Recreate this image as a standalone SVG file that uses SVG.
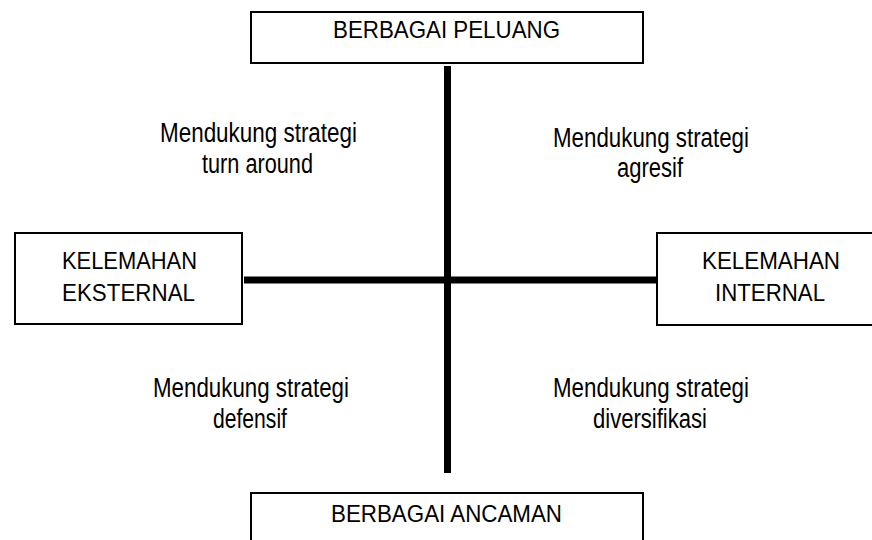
<svg xmlns="http://www.w3.org/2000/svg" width="872" height="540" viewBox="0 0 872 540">
  <style>
    .box { fill: #ffffff; stroke: #000000; stroke-width: 2; }
    .axis { stroke: #000000; stroke-width: 7; fill: none; }
    .label { font-family: "Liberation Sans", Arial, sans-serif; fill: #000000; text-anchor: middle; }
    .head { font-size: 24px; }
    .note { font-size: 27px; }
  </style>
  <rect width="872" height="540" fill="#ffffff"/>

  <!-- axes -->
  <g id="connectors">
    <line class="axis" x1="447.5" y1="66" x2="447.5" y2="473"/>
    <line class="axis" x1="244" y1="280" x2="658" y2="280"/>
  </g>

  <g id="node-peluang">
    <rect class="box" x="251" y="12" width="392" height="51"/>
    <text class="label head" x="446.5" y="38" textLength="227" lengthAdjust="spacingAndGlyphs">BERBAGAI PELUANG</text>
  </g>

  <g id="node-ancaman">
    <rect class="box" x="251" y="493" width="392" height="70"/>
    <text class="label head" x="446.5" y="522" textLength="231" lengthAdjust="spacingAndGlyphs">BERBAGAI ANCAMAN</text>
  </g>

  <g id="node-eksternal">
    <rect class="box" x="15" y="233" width="227" height="91"/>
    <text class="label head" x="129.5" y="269" textLength="135" lengthAdjust="spacingAndGlyphs">KELEMAHAN</text>
    <text class="label head" x="128.5" y="301" textLength="133" lengthAdjust="spacingAndGlyphs">EKSTERNAL</text>
  </g>

  <g id="node-internal">
    <rect class="box" x="657" y="233" width="230" height="92"/>
    <text class="label head" x="771" y="269" textLength="138" lengthAdjust="spacingAndGlyphs">KELEMAHAN</text>
    <text class="label head" x="770" y="301" textLength="110" lengthAdjust="spacingAndGlyphs">INTERNAL</text>
  </g>

  <!-- quadrant notes -->
  <g id="quad-turnaround">
    <text class="label note" x="258.5" y="142" textLength="197" lengthAdjust="spacingAndGlyphs">Mendukung strategi</text>
    <text class="label note" x="257.5" y="173" textLength="111" lengthAdjust="spacingAndGlyphs">turn around</text>
  </g>
  <g id="quad-agresif">
    <text class="label note" x="651" y="147" textLength="196" lengthAdjust="spacingAndGlyphs">Mendukung strategi</text>
    <text class="label note" x="650" y="177" textLength="66" lengthAdjust="spacingAndGlyphs">agresif</text>
  </g>
  <g id="quad-defensif">
    <text class="label note" x="251" y="397" textLength="196" lengthAdjust="spacingAndGlyphs">Mendukung strategi</text>
    <text class="label note" x="250" y="428" textLength="74" lengthAdjust="spacingAndGlyphs">defensif</text>
  </g>
  <g id="quad-diversifikasi">
    <text class="label note" x="651" y="397" textLength="196" lengthAdjust="spacingAndGlyphs">Mendukung strategi</text>
    <text class="label note" x="650" y="428" textLength="114" lengthAdjust="spacingAndGlyphs">diversifikasi</text>
  </g>
</svg>
